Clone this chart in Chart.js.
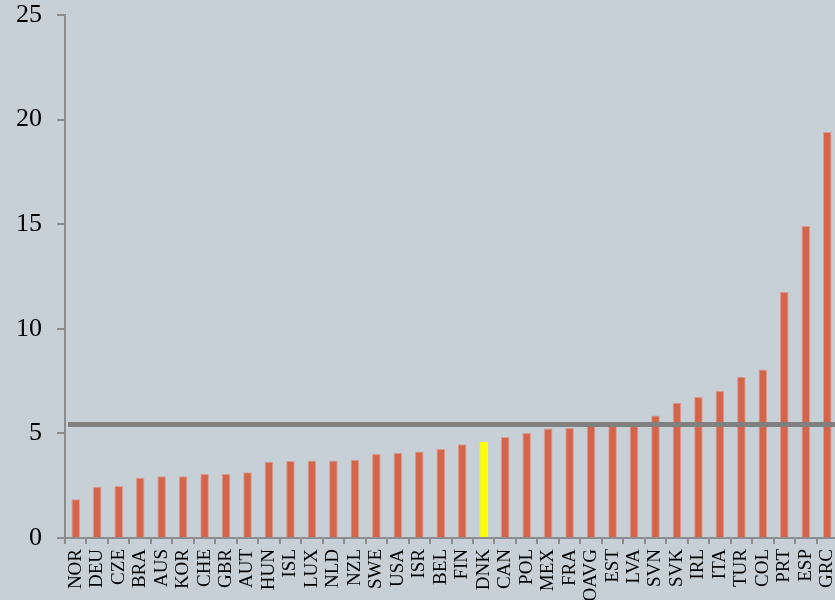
<!DOCTYPE html>
<html lang="en">
  <head>
    <meta charset="UTF-8" />
    <title>Chart</title>
    <style>
      html, body { margin: 0; padding: 0; overflow: hidden; background: #c6d0d6; }
      #wrap { position: absolute; left: 0; top: 0; width: 840px; height: 600px; }
    </style>
    <script src="https://cdn.jsdelivr.net/npm/chart.js@4/dist/chart.umd.min.js"></script>
  </head>
  <body>
    <div id="wrap"><canvas id="chart" width="840" height="600"></canvas></div>
    <script>
      // countries, sorted low to high
      var countries = ["NOR", "DEU", "CZE", "BRA", "AUS", "KOR", "CHE", "GBR", "AUT", "HUN",
        "ISL", "LUX", "NLD", "NZL", "SWE", "USA", "ISR", "BEL", "FIN", "DNK",
        "CAN", "POL", "MEX", "FRA", "OAVG", "EST", "LVA", "SVN", "SVK", "IRL",
        "ITA", "TUR", "COL", "PRT", "ESP", "GRC"];
      var values = [1.85, 2.45, 2.49, 2.88, 2.95, 2.95, 3.06, 3.06, 3.14, 3.65,
        3.68, 3.71, 3.71, 3.74, 4.02, 4.08, 4.13, 4.25, 4.48, 4.59,
        4.83, 5.02, 5.23, 5.27, 5.38, 5.40, 5.42, 5.85, 6.47, 6.74,
        7.04, 7.71, 8.06, 11.76, 14.91, 19.41];
      var highlight = "DNK";
      var averageLine = 5.43;
      var yTicks = [0, 5, 10, 15, 20, 25];

      var barColor = "#d4644a";
      var axisGrey = "#8c8c8c";

      var colors = countries.map((c) => (c === highlight ? "#ffff00" : barColor));
      var borders = countries.map((c) => (c === highlight ? "#ffff00" : "#dd9c8f"));

      // grey average line drawn on top of the bars
      var avgLinePlugin = {
        id: "avgLine",
        afterDatasetsDraw(chart) {
          var ctx = chart.ctx;
          var area = chart.chartArea;
          var y = chart.scales.y.getPixelForValue(averageLine);
          ctx.save();
          ctx.strokeStyle = "#808080";
          ctx.lineWidth = 5;
          ctx.beginPath();
          ctx.moveTo(area.left + 3, y);
          ctx.lineTo(area.right, y);
          ctx.stroke();
          ctx.restore();
        },
      };

      new Chart(document.getElementById("chart"), {
        type: "bar",
        data: {
          labels: countries,
          datasets: [
            {
              data: values,
              backgroundColor: colors,
              borderColor: borders,
              borderWidth: 1,
              barPercentage: 0.4,
              categoryPercentage: 1,
            },
          ],
        },
        options: {
          responsive: false,
          animation: false,
          devicePixelRatio: 1,
          layout: { padding: { top: 15, right: 2, left: 0, bottom: 0 } },
          plugins: { legend: { display: false }, tooltip: { enabled: false } },
          scales: {
            x: {
              afterFit(scale) {
                scale.height = 62;
                scale.paddingLeft = 0;
                scale.paddingRight = 0;
              },
              grid: {
                offset: true,
                drawOnChartArea: false,
                tickLength: 6,
                color: axisGrey,
                lineWidth: 2,
              },
              border: { color: axisGrey, width: 2 },
              ticks: {
                autoSkip: false,
                minRotation: 90,
                maxRotation: 90,
                padding: 5,
                color: "#000",
                font: { family: "Liberation Serif", size: 19 },
              },
            },
            y: {
              min: 0,
              max: 25,
              afterFit(scale) {
                scale.width = 65;
                scale.paddingTop = 0;
                scale.paddingBottom = 0;
              },
              afterBuildTicks(scale) {
                scale.ticks = yTicks.map((v) => ({ value: v }));
              },
              grid: {
                drawOnChartArea: false,
                tickLength: 8,
                color: axisGrey,
                lineWidth: 2,
              },
              border: { color: axisGrey, width: 2 },
              ticks: {
                padding: 15,
                color: "#000",
                font: { family: "Liberation Serif", size: 26 },
              },
            },
          },
        },
        plugins: [avgLinePlugin],
      });
    </script>
  </body>
</html>
